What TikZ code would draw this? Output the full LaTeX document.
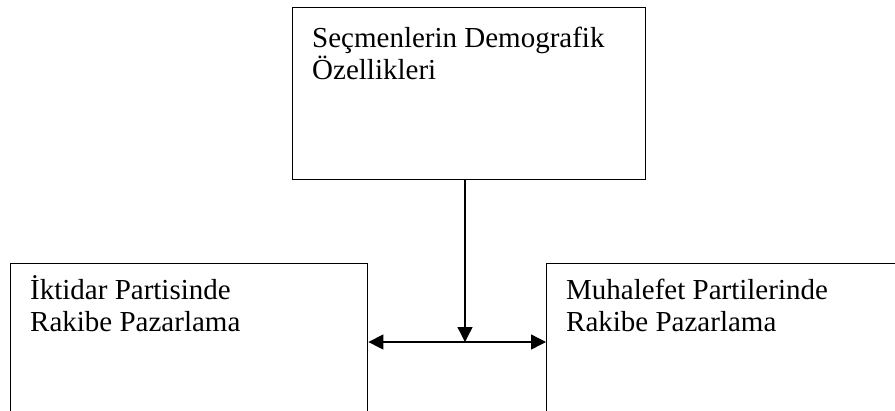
\documentclass[tikz,border=0pt]{standalone}
\usepackage{fontspec}
\setmainfont{Liberation Serif}
\usetikzlibrary{arrows.meta}
\usetikzlibrary{positioning}

\begin{document}
\begin{tikzpicture}[x=1pt,y=-1pt,
kutu/.style={draw,rectangle,line width=1.4pt,inner sep=0pt},
yazi/.style={align=left,inner sep=0pt,font=\fontsize{29}{32}\selectfont},
ok/.style={line width=1.4pt,-{Triangle[length=15pt,width=15pt]}}]
\useasboundingbox (0,0) rectangle (895,410);
\clip (0,0) rectangle (895,410);
\draw
(292,7) node[kutu,anchor=north west,minimum width=353pt,minimum height=172pt](dem){}
(10,263) node[kutu,anchor=north west,minimum width=357pt,minimum height=200pt](ikt){}
(546,263) node[kutu,anchor=north west,minimum width=400pt,minimum height=200pt](muh){}
;
%%% texts
\node[yazi,below right=14pt and 20pt of dem.north west](demy){\rule{0pt}{26pt}Seçmenlerin Demografik\\Özellikleri};
\node[yazi,below right=10pt and 20pt of ikt.north west](ikty){\rule{0pt}{26pt}İktidar Partisinde\\Rakibe Pazarlama};
\node[yazi,below right=10pt and 20pt of muh.north west](muhy){\rule{0pt}{26pt}Muhalefet Partilerinde\\Rakibe Pazarlama};
%%% arrows
\coordinate (orta) at (465,342);
\draw[ok] (dem.south -| orta) -- (orta);
\draw[ok] (orta) -- (ikt.east |- orta);
\draw[ok] (orta) -- (muh.west |- orta);
\end{tikzpicture}
\end{document}
